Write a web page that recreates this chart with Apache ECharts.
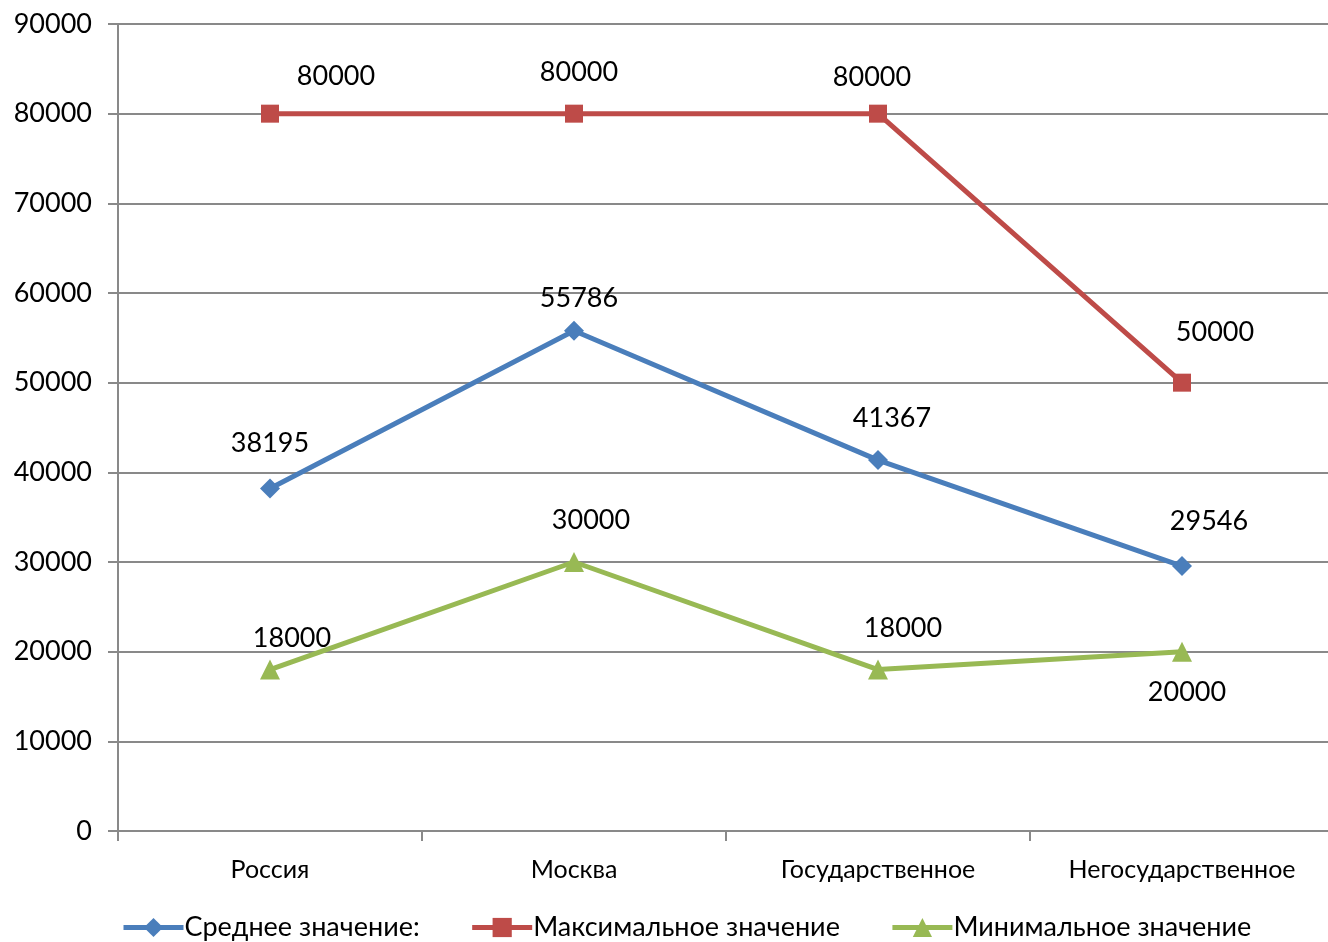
<!DOCTYPE html>
<html>
<head>
<meta charset="utf-8">
<script src="https://cdn.jsdelivr.net/npm/echarts@6/dist/echarts.min.js"></script>
<style>
  html, body { margin: 0; padding: 0; background: #fff; }
  #chart { width: 1328px; height: 942px; }
</style>
</head>
<body>
<div id="chart"></div>
<script>
// данные с графика
const categories = ['Россия', 'Москва', 'Государственное', 'Негосударственное']
const avgValues = [38195, 55786, 41367, 29546]
const maxValues = [80000, 80000, 80000, 50000]
const minValues = [18000, 30000, 18000, 20000]

// смещения подписей [x, y]
const avgOffsets = [[0, -12], [5, 1], [14, -8], [27, -11]]
const maxOffsets = [[66, -5], [5, -9], [-6, -4], [33, -18]]
const minOffsets = [[22, 2], [17, -8], [25, -8], [5, 74]]

const font = 'Lato, "Open Sans", sans-serif'

function withLabels(values, offsets) {
   return values.map((v, i) => ({
      value: v,
      label: { offset: offsets[i] }
   }))
}

const labelStyle = {
   show: true,
   position: 'top',
   distance: 10,
   color: '#000',
   fontSize: 27,
   fontFamily: font
}

const chart = echarts.init(document.getElementById('chart'))

const option = {
   animation: false,
   grid: { left: 118, top: 24, width: 1216, height: 807, outerBoundsMode: 'none', containLabel: false },
   legend: {
      top: 909,
      left: 116,
      itemWidth: 60,
      itemHeight: 24,
      itemGap: 50,
      lineStyle: { width: 5 },
      textStyle: { fontSize: 27, fontFamily: font, color: '#000', padding: [0, 0, 0, -4] }
   },
   xAxis: {
      type: 'category',
      data: categories,
      boundaryGap: true,
      axisLine: { lineStyle: { color: '#898989', width: 2 } },
      axisTick: { show: true, interval: 0, length: 10, inside: false, lineStyle: { color: '#898989', width: 2 } },
      axisLabel: { color: '#000', fontSize: 25, fontFamily: font, margin: 26, interval: 0, hideOverlap: false }
   },
   yAxis: {
      type: 'value',
      min: 0,
      max: 90000,
      interval: 10000,
      axisLine: { show: true, lineStyle: { color: '#898989', width: 2 } },
      axisTick: { show: true, length: 10, lineStyle: { color: '#898989', width: 2 } },
      splitLine: { lineStyle: { color: '#898989', width: 2 } },
      axisLabel: { color: '#000', fontSize: 27, fontFamily: font, margin: 26, formatter: v => String(v) }
   },
   series: [
      {
         name: 'Среднее значение:',
         type: 'line',
         data: withLabels(avgValues, avgOffsets),
         symbol: 'diamond',
         symbolSize: 20,
         itemStyle: { color: '#4A7EBB' },
         lineStyle: { color: '#4A7EBB', width: 5 },
         label: labelStyle
      },
      {
         name: 'Максимальное значение',
         type: 'line',
         data: withLabels(maxValues, maxOffsets),
         symbol: 'rect',
         symbolSize: 18,
         itemStyle: { color: '#BE4B48' },
         lineStyle: { color: '#BE4B48', width: 5 },
         label: labelStyle
      },
      {
         name: 'Минимальное значение',
         type: 'line',
         data: withLabels(minValues, minOffsets),
         symbol: 'triangle',
         symbolSize: 20,
         itemStyle: { color: '#98B954' },
         lineStyle: { color: '#98B954', width: 5 },
         label: labelStyle
      }
   ]
}

chart.setOption(option)
</script>
</body>
</html>
